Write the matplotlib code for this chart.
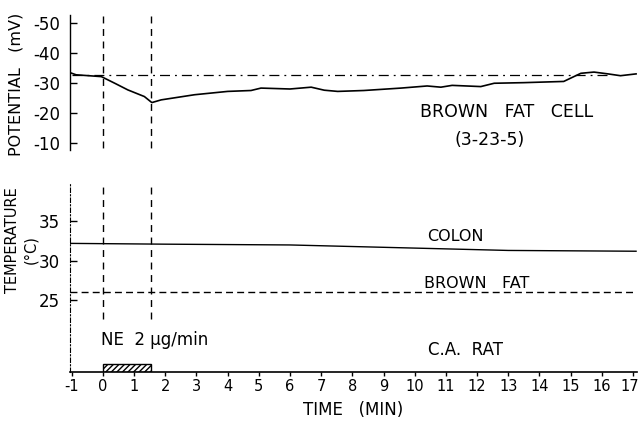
import matplotlib
matplotlib.use("Agg")
import matplotlib.pyplot as plt
from matplotlib.transforms import offset_copy

plt.rcParams['font.family'] = ['DejaVu Sans']
plt.rcParams['axes.unicode_minus'] = False

# --- data ---
pot_t = [-1.05, -0.86, -0.05, 0.4, 0.8, 1.33, 1.57, 1.87, 2.94, 4.0, 4.75, 5.07,
         6.0, 6.68, 7.1, 7.53, 8.37, 9.56, 10.4, 10.84, 11.2, 12.12, 12.55,
         13.5, 14.78, 15.33, 15.75, 16.2, 16.6, 17.1]
pot_mv = [-33.4, -32.7, -32.1, -29.8, -27.7, -25.5, -23.5, -24.4, -26.1, -27.2,
          -27.5, -28.3, -28.0, -28.6, -27.6, -27.2, -27.5, -28.3, -29.0, -28.6,
          -29.2, -28.8, -29.9, -30.1, -30.5, -33.2, -33.6, -33.0, -32.4, -33.0]
pot_baseline = -32.5

colon_t = [-1.05, 2.0, 6.0, 10.0, 13.0, 17.1]
colon_c = [32.2, 32.1, 32.0, 31.6, 31.3, 31.2]
bfat_t = [-1.05, 17.1]
bfat_c = [26.05, 26.05]

ne_start, ne_end = 0.0, 1.55
x_ticks = list(range(-1, 18))
pot_ticks = [-50, -40, -30, -20, -10]
temp_ticks = [25, 30, 35]

fig = plt.figure(figsize=(6.4, 4.23), dpi=100)
W, H = 640, 423

def ax_rect(x0, y0, x1, y1):
    return [x0 / W, 1 - y1 / H, (x1 - x0) / W, (y1 - y0) / H]

xlim = (-1.055, 17.13)

# ---------- top panel ----------
ax1 = fig.add_axes(ax_rect(70, 15, 637, 150))
ax1.plot(pot_t, pot_mv, color='black', lw=1.2)
ax1.hlines(pot_baseline, -1.0, 16.3, colors='black', lw=0.9,
           linestyles=(0, (8, 4, 1.5, 4)))
for t in (ne_start, ne_end):
    ax1.vlines(t, -52.3, -8.5, colors='black', lw=1.0, linestyles=(0, (5, 4)))
ax1.set_xlim(*xlim)
ax1.set_ylim(-7.8, -52.5)
ax1.set_yticks(pot_ticks)
ax1.set_yticklabels([str(v) for v in pot_ticks], fontsize=12)
ax1.tick_params(axis='y', direction='in', length=5, width=1, pad=7)
ax1.set_xticks([])
for s in ('top', 'right', 'bottom'):
    ax1.spines[s].set_visible(False)
ax1.spines['left'].set_linewidth(1.0)
ax1.patch.set_alpha(0)

# ---------- bottom panel ----------
ax2 = fig.add_axes(ax_rect(70, 183, 637, 372))
ax2.plot(colon_t, colon_c, color='black', lw=1.0)
ax2.plot(bfat_t, bfat_c, color='black', lw=1.0, linestyle=(0, (5, 3)))
for t in (ne_start, ne_end):
    ax2.vlines(t, 22.5, 39.9, colors='black', lw=1.0, linestyles=(0, (5, 4)))
ax2.axvspan(ne_start, ne_end, ymin=0, ymax=0.04, facecolor='white',
            edgecolor='black', hatch='//////', lw=1.0)
ax2.set_xlim(*xlim)
ax2.set_ylim(15.8, 39.9)
ax2.set_yticks(temp_ticks)
ax2.set_yticklabels([str(v) for v in temp_ticks], fontsize=12)
ax2.tick_params(axis='y', direction='in', length=5, width=1, pad=7)
ax2.set_xticks(x_ticks)
ax2.set_xticklabels([str(v) for v in x_ticks], fontsize=10.5)
ax2.tick_params(axis='x', direction='out', length=3, width=1, pad=2)
last = ax2.get_xticklabels()[-1]
last.set_transform(offset_copy(last.get_transform(), fig=fig, x=-3, units='dots'))
for s in ('top', 'right'):
    ax2.spines[s].set_visible(False)
ax2.spines['left'].set_linestyle((0, (4, 2, 1, 2)))
ax2.spines['left'].set_linewidth(0.8)
ax2.spines['bottom'].set_linewidth(1.2)
ax2.set_xlabel('TIME   (MIN)', fontsize=12, labelpad=5)
ax2.patch.set_alpha(0)

# axis titles
fig.text(16 / W, 1 - 84 / H, 'POTENTIAL   (mV)', rotation=90, ha='center',
         va='center', fontsize=11.5)
fig.text(13 / W, 1 - 240 / H, 'TEMPERATURE', rotation=90, ha='center',
         va='center', fontsize=10.5)
fig.text(31 / W, 1 - 250 / H, '(°C)', rotation=90, ha='center',
         va='center', fontsize=10.5)

# annotations
fig.text(420 / W, 1 - 112 / H, 'BROWN   FAT   CELL', fontsize=12.5, va='center')
fig.text(455 / W, 1 - 140 / H, '(3-23-5)', fontsize=12.5, va='center')
fig.text(427 / W, 1 - 236 / H, 'COLON', fontsize=11.5, va='center')
fig.text(424 / W, 1 - 283 / H, 'BROWN   FAT', fontsize=11.5, va='center')
fig.text(101 / W, 1 - 340 / H, 'NE  2 µg/min', fontsize=12, va='center')
fig.text(428 / W, 1 - 350 / H, 'C.A.  RAT', fontsize=12, va='center')

fig.savefig('out.png', dpi=100)
